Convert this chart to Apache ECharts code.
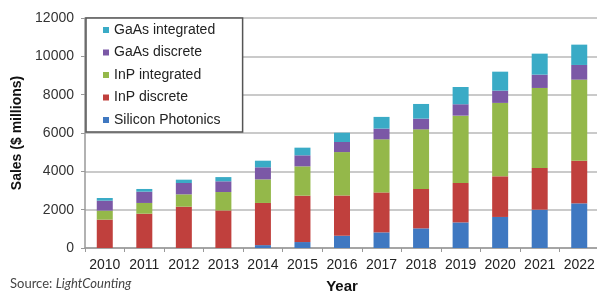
<!DOCTYPE html>
<html>
<head>
<meta charset="utf-8">
<script src="https://cdn.jsdelivr.net/npm/echarts@6/dist/echarts.min.js"></script>
<style>
  html, body { margin: 0; padding: 0; background: #fff; }
  #chart { width: 597px; height: 295px; }
</style>
</head>
<body>
<div id="chart"></div>
<script>
// years on the x axis
const years = ['2010', '2011', '2012', '2013', '2014', '2015', '2016',
  '2017', '2018', '2019', '2020', '2021', '2022']

// sales in $ millions, stacked bottom to top
const siliconPhotonics = [0, 0, 0, 0, 150, 310, 640, 815, 1025, 1335, 1620, 2000, 2330]
const inpDiscrete = [1480, 1790, 2155, 1960, 2200, 2420, 2100, 2085, 2055, 2055, 2120, 2175, 2225]
const inpIntegrated = [470, 560, 645, 960, 1230, 1530, 2265, 2770, 3110, 3515, 3830, 4175, 4230]
const gaasDiscrete = [520, 590, 590, 560, 630, 575, 525, 560, 560, 595, 640, 695, 765]
const gaasIntegrated = [140, 140, 175, 220, 345, 400, 485, 610, 765, 900, 990, 1095, 1060]

const legendOrder = ['GaAs integrated', 'GaAs discrete', 'InP integrated', 'InP discrete', 'Silicon Photonics']

const font = '"Liberation Sans", Arial, sans-serif'

function bar(name, data, color) {
  return {
    name: name,
    type: 'bar',
    stack: 'sales',
    data: data,
    barWidth: 16,
    animation: false,
    itemStyle: { color: color }
  }
}

const chart = echarts.init(document.getElementById('chart'), null, { renderer: 'canvas' })

chart.setOption({
  backgroundColor: '#fff',
  textStyle: { fontFamily: font },
  grid: {
    left: 85,
    top: 18,
    width: 514,
    height: 230,
    outerBoundsMode: 'none'
  },
  legend: {
    orient: 'vertical',
    left: 86,
    top: 18,
    data: legendOrder,
    icon: 'rect',
    itemWidth: 6,
    itemHeight: 6,
    itemGap: 8.5,
    padding: [5, 22, 5, 17],
    backgroundColor: '#fff',
    borderColor: '#555',
    borderWidth: 1.5,
    selectedMode: false,
    textStyle: { fontSize: 14, color: '#222', fontFamily: font }
  },
  xAxis: {
    type: 'category',
    data: years,
    name: 'Year',
    nameLocation: 'middle',
    nameGap: 31,
    nameTextStyle: { fontSize: 15, fontWeight: 'bold', color: '#111', fontFamily: font },
    axisLine: { lineStyle: { color: '#999', width: 1.5 } },
    axisTick: { show: true, length: 4, alignWithLabel: false, lineStyle: { color: '#999' } },
    axisLabel: { interval: 0, fontSize: 14, color: '#222', margin: 10, fontFamily: font }
  },
  yAxis: {
    type: 'value',
    min: 0,
    max: 12000,
    interval: 2000,
    name: 'Sales ($ millions)',
    nameLocation: 'middle',
    nameGap: 61,
    nameTextStyle: { fontSize: 14, fontWeight: 'bold', color: '#111', fontFamily: font },
    axisLine: { show: true, lineStyle: { color: '#999', width: 1.5 } },
    axisTick: { show: true, length: 4, lineStyle: { color: '#999' } },
    axisLabel: {
      fontSize: 14,
      color: '#333',
      margin: 11,
      fontFamily: font,
      formatter: function (v) { return String(v) }
    },
    splitLine: { lineStyle: { color: '#b8b8b8', width: 1.5 } }
  },
  graphic: [{
    type: 'text',
    left: 10,
    top: 277,
    style: {
      rich: {
        n: { fontFamily: 'Lato, sans-serif', fontSize: 13, fill: '#444' },
        i: { fontFamily: 'Lato, sans-serif', fontSize: 13, fontStyle: 'italic', fill: '#444' }
      },
      text: '{n|Source: }{i|LightCounting}'
    }
  }],
  series: [
    bar('Silicon Photonics', siliconPhotonics, '#3f78c1'),
    bar('InP discrete', inpDiscrete, '#c0403d'),
    bar('InP integrated', inpIntegrated, '#94b84a'),
    bar('GaAs discrete', gaasDiscrete, '#7b58a6'),
    bar('GaAs integrated', gaasIntegrated, '#3aabc6')
  ]
})
</script>
</body>
</html>
